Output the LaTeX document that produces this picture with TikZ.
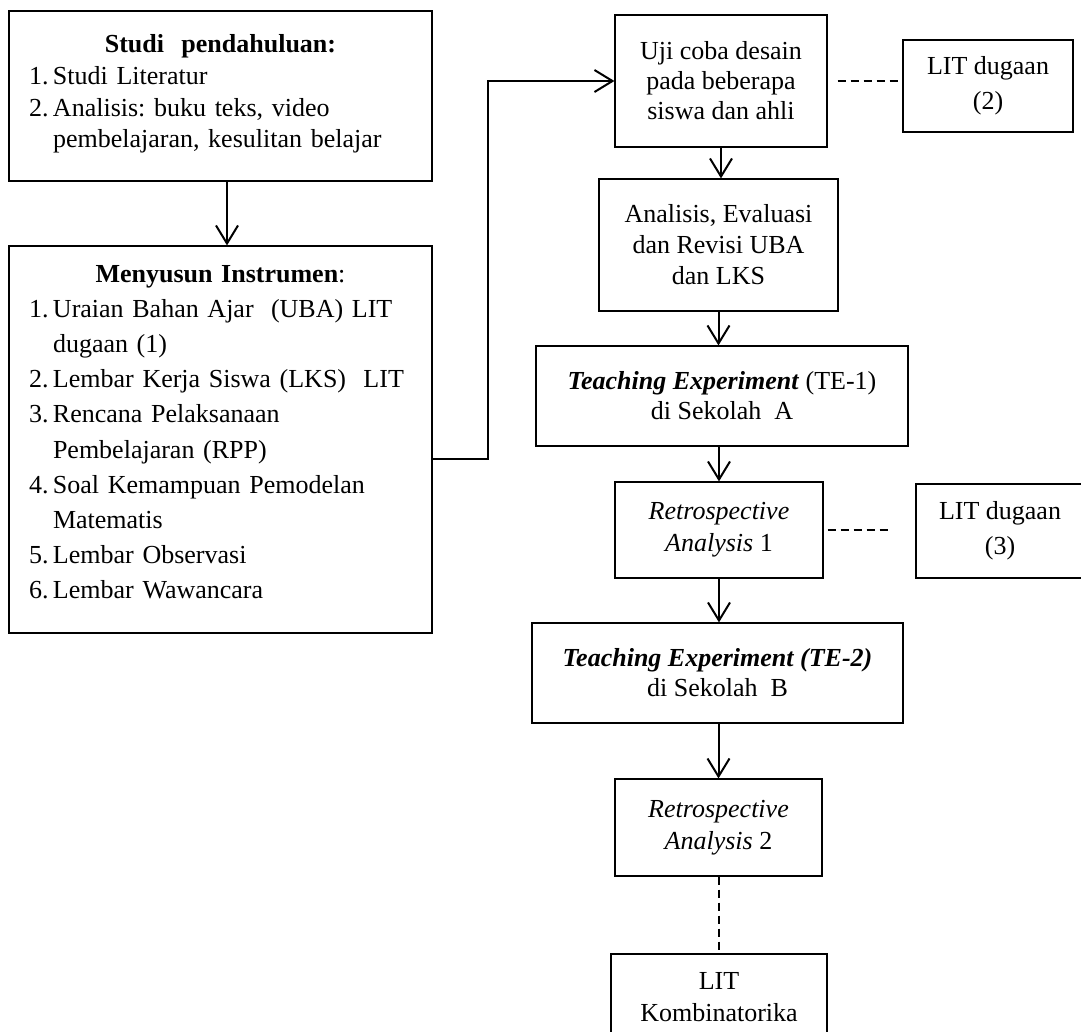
\documentclass[tikz,border=0pt]{standalone}
\usepackage{fontspec}
\setmainfont{Liberation Serif}
\usetikzlibrary{arrows.meta}
\frenchspacing
\newcommand\numline[2]{\makebox[24pt][l]{#1}#2}
\newcommand\contline[1]{\hspace*{24pt}#1}
\begin{document}
\begin{tikzpicture}[x=1pt,y=-1pt,
  box/.style={draw, line width=1.2pt, inner sep=0pt, align=center, font=\fontsize{26}{30}\selectfont},
  listbox/.style={box, align=left, text width=383pt, inner xsep=20pt, minimum width=423pt},
  arr/.style={line width=2pt, -{Straight Barb[length=18pt,width=22pt]}},
  dashline/.style={line width=2pt, dash pattern=on 8pt off 5pt}]
\clip (0,0) rectangle (1081,1031);
\node[listbox, minimum height=170pt, font=\fontsize{26}{31.7}\selectfont] (studi) at (220.5,96) {%
\makebox[\hsize][c]{\textbf{Studi\ \ pendahuluan:}}\\
\numline{1.}{Studi Literatur}\\
\numline{2.}{Analisis: buku teks, video}\\
\contline{pembelajaran, kesulitan belajar}\\[-22pt]\mbox{}};
\node[listbox, minimum height=387pt, font=\fontsize{26}{35.2}\selectfont] (susun) at (220.5,439.5) {%
\makebox[\hsize][c]{\textbf{Menyusun Instrumen}:}\\
\numline{1.}{Uraian Bahan Ajar\ \ (UBA) LIT}\\
\contline{dugaan (1)}\\
\numline{2.}{Lembar Kerja Siswa (LKS)\ \ LIT}\\
\numline{3.}{Rencana Pelaksanaan}\\
\contline{Pembelajaran (RPP)}\\
\numline{4.}{Soal Kemampuan Pemodelan}\\
\contline{Matematis}\\
\numline{5.}{Lembar Observasi}\\
\numline{6.}{Lembar Wawancara}\\[-20pt]\mbox{}};
\node[box, minimum width=212pt, minimum height=132pt] (uji) at (721,81) {Uji coba desain\\pada beberapa\\siswa dan ahli};
\node[box, minimum width=170pt, minimum height=92pt, font=\fontsize{26}{35}\selectfont] (lit2) at (988,86) {LIT dugaan\\(2)};
\node[box, minimum width=239pt, minimum height=132pt, font=\fontsize{26}{31}\selectfont] (evalu) at (718.5,245) {Analisis, Evaluasi\\dan Revisi UBA\\dan LKS};
\node[box, minimum width=372pt, minimum height=100pt] (teA) at (722,396) {\textbf{\textit{Teaching Experiment}} (TE-1)\\di Sekolah\ \ A};
\node[box, minimum width=208pt, minimum height=96pt, font=\fontsize{26}{32}\selectfont] (retroA) at (719,530) {\textit{Retrospective}\\\textit{Analysis} 1};
\node[box, minimum width=168pt, minimum height=94pt, font=\fontsize{26}{35}\selectfont] (lit3) at (1000,531) {LIT dugaan\\(3)};
\node[box, minimum width=371pt, minimum height=100pt] (teB) at (717.5,673) {\textbf{\textit{Teaching Experiment (TE-2)}}\\di Sekolah\ \ B};
\node[box, minimum width=207pt, minimum height=97pt, font=\fontsize{26}{32}\selectfont] (retroB) at (718.5,827.5) {\textit{Retrospective}\\\textit{Analysis} 2};
\node[box, minimum width=216pt, minimum height=86pt, font=\fontsize{26}{32}\selectfont] (komb) at (719,997) {LIT\\Kombinatorika};
% alur
\draw[arr] ([xshift=6.5pt]studi.south) -- ([xshift=6.5pt]susun.north);
\coordinate (elbow) at (488,459);
\draw[arr] (susun.east |- elbow) -- (elbow) |- (uji.west);
\draw[arr] (uji.south) -- (uji.south |- evalu.north);
\draw[arr] (evalu.south) -- (evalu.south |- teA.north);
\draw[arr] (retroA.north |- teA.south) -- (retroA.north);
\draw[arr] (retroA.south) -- (retroA.south |- teB.north);
\draw[arr] (retroB.north |- teB.south) -- (retroB.north);
\draw[dashline] (retroB.south) -- (retroB.south |- komb.north);
\draw[dashline] ([xshift=10pt]uji.east) -- ([xshift=-3pt]uji.east -| lit2.west);
\draw[dashline] ([xshift=4pt]retroA.east) -- ([xshift=-26pt]retroA.east -| lit3.west);
\end{tikzpicture}
\end{document}
